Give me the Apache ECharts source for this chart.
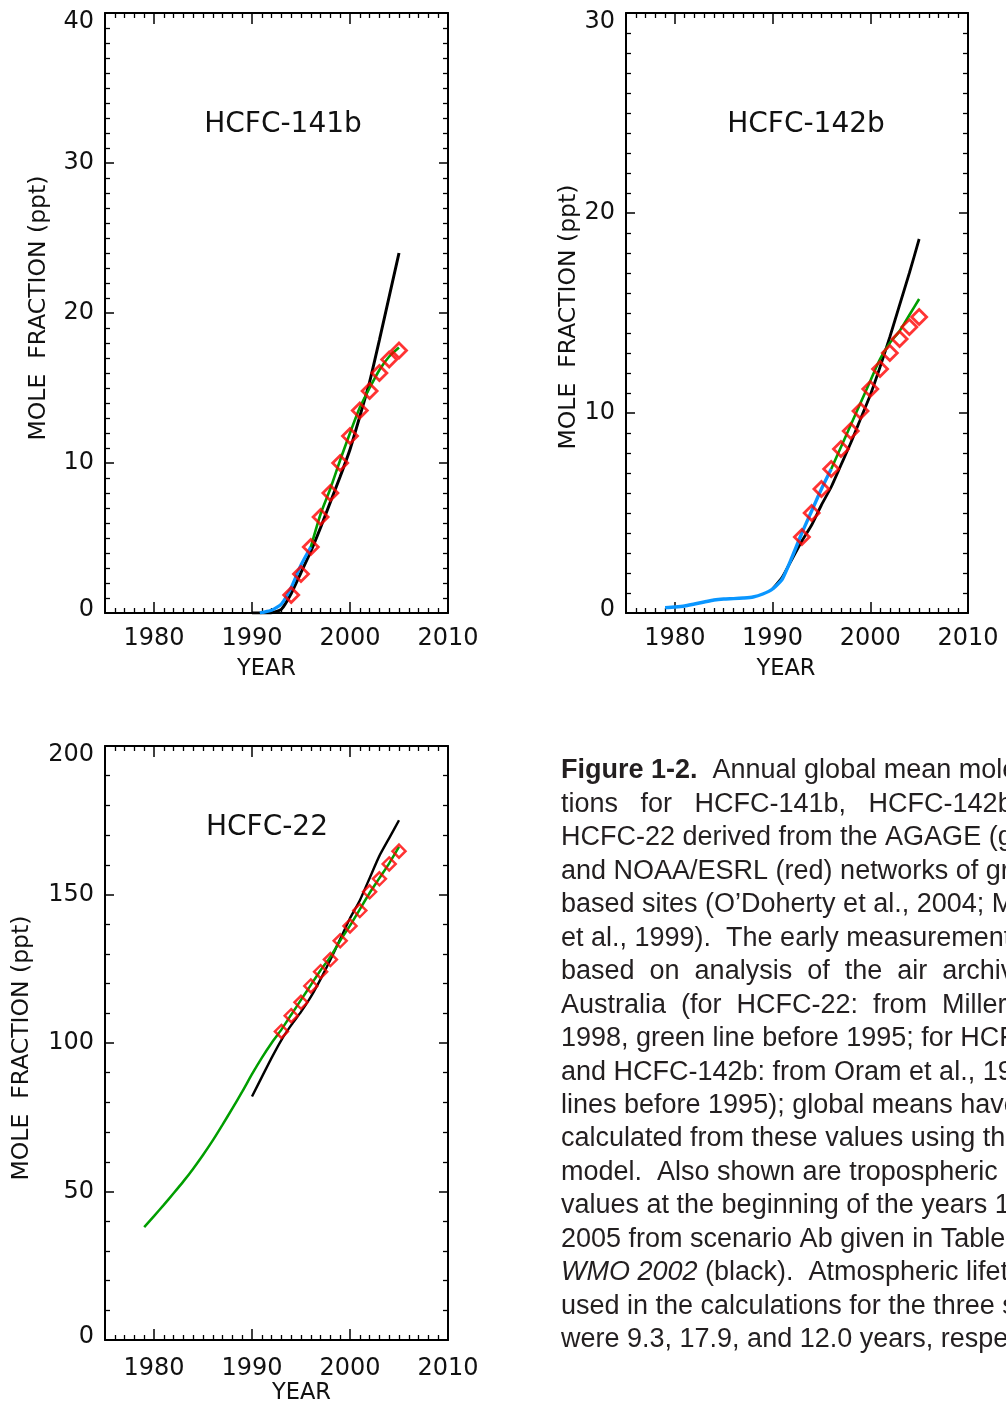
<!DOCTYPE html>
<html><head><meta charset="utf-8">
<script src="https://cdn.jsdelivr.net/npm/echarts@6/dist/echarts.min.js"></script>
<style>html,body{margin:0;padding:0;background:#fff}#c{width:1006px;height:1406px}</style>
</head><body><div id="c"></div>
<script>
// ---------- DATA ----------
const xMajorTicks = [1980, 1990, 2000, 2010];
const xMinorTicks = [1976,1977,1978,1979,1981,1982,1983,1984,1985,1986,1987,1988,1989,1991,1992,1993,1994,1995,1996,1997,1998,1999,2001,2002,2003,2004,2005,2006,2007,2008,2009];

// HCFC-141b
const b141_blackYears = [1990,1991,1992,1993,1994,1995,1996,1997,1998,1999,2000,2001,2002,2003,2004,2005];
const b141_blackVals  = [0,0,0.02,0.25,1.3,2.7,4.1,5.7,7.4,9.1,10.9,13.1,15.4,18.2,21.1,24.0];
const b141_blueYears  = [1990.8,1991,1992,1993,1994,1995,1996];
const b141_blueVals   = [0,0.03,0.18,0.6,1.7,3.2,4.4];
const b141_greenYears = [1996,1997,1998,1999,2000,2001,2002,2003,2004,2005];
const b141_greenVals  = [4.4,6.6,8.3,10.2,12.0,13.7,15.0,16.2,17.1,17.7];
const b141_redYears   = [1994,1995,1996,1997,1998,1999,2000,2001,2002,2003,2004,2005];
const b141_redVals    = [1.2,2.6,4.4,6.4,8.0,10.0,11.8,13.5,14.8,16.0,16.9,17.5];

// HCFC-142b
const b142_blackYears = [1990,1991,1992,1993,1994,1995,1996,1997,1998,1999,2000,2001,2002,2003,2004,2005];
const b142_blackVals  = [1.2,1.8,2.7,3.6,4.4,5.4,6.3,7.4,8.5,9.7,10.9,12.3,13.8,15.4,17.0,18.7];
const b142_blueYears  = [1979,1980,1981,1982,1983,1984,1985,1986,1987,1988,1989,1990,1991,1992,1993,1994,1995,1996];
const b142_blueVals   = [0.27,0.3,0.35,0.45,0.55,0.65,0.7,0.72,0.75,0.8,0.95,1.2,1.7,2.8,4.0,5.1,6.2,7.2];
const b142_greenYears = [1996,1997,1998,1999,2000,2001,2002,2003,2004,2005];
const b142_greenVals  = [7.2,8.3,9.4,10.5,11.6,12.7,13.5,14.1,14.9,15.7];
const b142_redYears   = [1993,1994,1995,1996,1997,1998,1999,2000,2001,2002,2003,2004,2005];
const b142_redVals    = [3.8,5.0,6.2,7.2,8.2,9.1,10.1,11.2,12.2,13.0,13.7,14.3,14.8];

// HCFC-22
const c22_blackYears = [1990,1991,1992,1993,1994,1995,1996,1997,1998,1999,2000,2001,2002,2003,2004,2005];
const c22_blackVals  = [82,88.5,95,101,106,110.5,115.5,121.5,128,135,142,148,155.5,163,169,175];
const c22_greenYears = [1979,1980,1981,1982,1983,1984,1985,1986,1987,1988,1989,1990,1991,1992,1993,1994,1995,1996,1997,1998,1999,2000,2001,2002,2003,2004,2005];
const c22_greenVals  = [38,41.7,45.5,49.4,53.4,57.7,62.3,67.2,72.5,78,83.6,89.5,95,100,104.5,109.5,114.5,119.5,124.5,129,134.5,139.5,145,150.5,155.5,160.5,166];
const c22_redYears   = [1993,1994,1995,1996,1997,1998,1999,2000,2001,2002,2003,2004,2005];
const c22_redVals    = [103.9,109.2,113.7,119.2,124,128.1,134.4,139.4,144.6,150.9,155.3,160.3,164.6];

const panelTitles = ['HCFC-141b', 'HCFC-142b', 'HCFC-22'];
const yMaxes = [40, 30, 200];
const yIntervals = [10, 10, 50];
const yMinorSplits = [10, 10, 5];
const yAxisName = 'MOLE  FRACTION (ppt)';
const xAxisName = 'YEAR';

const captionLines = [
  '{b|Figure 1-2.}  Annual global mean mole frac-',
  'tions   for   HCFC-141b,   HCFC-142b,   and',
  'HCFC-22 derived from the AGAGE (green)',
  'and NOAA/ESRL (red) networks of ground-',
  'based sites (O\u2019Doherty et al., 2004; Montzka',
  'et al., 1999).  The early measurements are',
  'based  on  analysis  of  the  air  archive  at',
  'Australia  (for  HCFC-22:  from  Miller  et al.,',
  '1998, green line before 1995; for HCFC-141b',
  'and HCFC-142b: from Oram et al., 1998, blue',
  'lines before 1995); global means have been',
  'calculated from these values using the AGAGE',
  'model.  Also shown are tropospheric mixing',
  'values at the beginning of the years 1990-',
  '2005 from scenario Ab given in Table 4B-2 of',
  '{i|WMO 2002} (black).  Atmospheric lifetimes',
  'used in the calculations for the three species',
  'were 9.3, 17.9, and 12.0 years, respectively.'
];

// ---------- BUILD ----------
const pairs = (xs, ys) => xs.map((x, i) => [x, ys[i]]);
const BLACK = '#000', BLUE = '#0a96ff', GREEN = '#009e00', RED = '#ff0000';
const TICKFONT = 'DejaVu Sans';

const grids = [
  {left: 105, top: 13, width: 343, height: 600},
  {left: 626, top: 13, width: 342, height: 600},
  {left: 105, top: 746, width: 343, height: 600}
];
const yNameGaps = [54, 45, 71];
const yNamePad = [[0,0,0,10],[0,8,0,0],[0,10,0,0]];
const xNameGaps = [45, 45, 42];
const xNamePad = [[0,20,0,0],[0,22,0,0],[0,0,0,50]];

const xAxes = [], yAxes = [];
const axLine = {onZero: false, lineStyle: {color: '#000', width: 2}};
grids.forEach((g, gi) => {
  xAxes.push({gridIndex: gi, type: 'value', position: 'bottom', min: 1975, max: 2010,
    axisLine: axLine,
    axisTick: {show: true, inside: true, length: 11, lineStyle: {color: '#000', width: 1.5}, customValues: xMajorTicks},
    axisLabel: {show: true, customValues: xMajorTicks, formatter: v => String(v), color: '#111', fontFamily: TICKFONT, fontSize: 24, margin: gi === 2 ? 17 : 14},
    splitLine: {show: false},
    name: xAxisName, nameLocation: 'middle', nameGap: xNameGaps[gi],
    nameTextStyle: {color: '#111', fontFamily: TICKFONT, fontSize: 22.5, verticalAlign: 'top', padding: xNamePad[gi]}
  });
  xAxes.push({gridIndex: gi, type: 'value', position: 'bottom', min: 1975, max: 2010,
    axisLine: {show: false, onZero: false},
    axisTick: {show: true, inside: true, length: 5, lineStyle: {color: '#000', width: 1.3}, customValues: xMinorTicks},
    axisLabel: {show: false}, splitLine: {show: false}});
  xAxes.push({gridIndex: gi, type: 'value', position: 'top', min: 1975, max: 2010,
    axisLine: axLine,
    axisTick: {show: true, inside: true, length: 11, lineStyle: {color: '#000', width: 1.5}, customValues: xMajorTicks},
    axisLabel: {show: false}, splitLine: {show: false}});
  xAxes.push({gridIndex: gi, type: 'value', position: 'top', min: 1975, max: 2010,
    axisLine: {show: false, onZero: false},
    axisTick: {show: true, inside: true, length: 5, lineStyle: {color: '#000', width: 1.3}, customValues: xMinorTicks},
    axisLabel: {show: false}, splitLine: {show: false}});

  const ymax = yMaxes[gi];
  const yLab = {
    show: true, color: '#111', fontFamily: TICKFONT, fontSize: 24, margin: 11, lineHeight: 24,
    formatter: v => v === ymax ? '{t|' + v + '}' : (v === 0 ? '{b|' + v + '}' : String(v)),
    rich: {
      t: {fontFamily: TICKFONT, fontSize: 24, color: '#111', padding: [18, 0, 0, 0]},
      b: {fontFamily: TICKFONT, fontSize: 24, color: '#111', padding: [0, 0, 7, 0]}
    }
  };
  yAxes.push({gridIndex: gi, type: 'value', position: 'left', min: 0, max: ymax, interval: yIntervals[gi],
    axisLine: axLine,
    axisTick: {show: true, inside: true, length: 9, lineStyle: {color: '#000', width: 1.5}},
    minorTick: {show: true, splitNumber: yMinorSplits[gi], length: 5, lineStyle: {color: '#000', width: 1.3}},
    axisLabel: yLab, splitLine: {show: false}, minorSplitLine: {show: false},
    name: yAxisName, nameLocation: 'middle', nameGap: yNameGaps[gi],
    nameTextStyle: {color: '#111', fontFamily: TICKFONT, fontSize: 23.5, padding: yNamePad[gi]}
  });
  yAxes.push({gridIndex: gi, type: 'value', position: 'right', min: 0, max: ymax, interval: yIntervals[gi],
    axisLine: axLine,
    axisTick: {show: true, inside: true, length: 9, lineStyle: {color: '#000', width: 1.5}},
    minorTick: {show: true, splitNumber: yMinorSplits[gi], length: 5, lineStyle: {color: '#000', width: 1.3}},
    axisLabel: {show: false}, splitLine: {show: false}, minorSplitLine: {show: false}
  });
});

function lineS(gi, data, color, width) {
  return {type: 'line', xAxisIndex: gi * 4, yAxisIndex: gi * 2, data: data, showSymbol: false, symbol: 'none',
    smooth: 0.2, lineStyle: {color: color, width: width}, z: 3, silent: true};
}
function redS(gi, data, size, bw) {
  return {type: 'scatter', xAxisIndex: gi * 4, yAxisIndex: gi * 2, data: data, symbol: 'diamond', symbolSize: size,
    itemStyle: {color: 'rgba(255,255,255,0)', borderColor: RED, borderWidth: bw}, z: 5, silent: true};
}

const series = [
  lineS(0, pairs(b141_blackYears, b141_blackVals), BLACK, 3),
  lineS(0, pairs(b141_blueYears, b141_blueVals), BLUE, 3.2),
  lineS(0, pairs(b141_greenYears, b141_greenVals), GREEN, 2.6),
  redS(0, pairs(b141_redYears, b141_redVals), 15, 2.8),
  lineS(1, pairs(b142_blackYears, b142_blackVals), BLACK, 2.8),
  lineS(1, pairs(b142_blueYears, b142_blueVals), BLUE, 3.4),
  lineS(1, pairs(b142_greenYears, b142_greenVals), GREEN, 2.6),
  redS(1, pairs(b142_redYears, b142_redVals), 15, 2.8),
  lineS(2, pairs(c22_blackYears, c22_blackVals), BLACK, 2.4),
  lineS(2, pairs(c22_greenYears, c22_greenVals), GREEN, 2.5),
  redS(2, pairs(c22_redYears, c22_redVals), 13, 2.5)
];

const titlePos = [[283, 125], [806, 125], [267, 828]];
const graphics = panelTitles.map((t, i) => ({
  type: 'text', x: titlePos[i][0], y: titlePos[i][1], silent: true,
  style: {text: t, fill: '#111', fontFamily: TICKFONT, fontSize: 28, align: 'center', verticalAlign: 'middle'}
}));
const CAPFONT = 'Liberation Sans';
captionLines.forEach((ln, i) => {
  graphics.push({type: 'text', x: 561, y: 771 + i * 33.45, silent: true,
    style: {text: ln, fill: '#231f20', fontFamily: CAPFONT, fontSize: 27, align: 'left', verticalAlign: 'middle',
      rich: {
        b: {fontFamily: CAPFONT, fontSize: 27, fontWeight: 'bold', fill: '#231f20'},
        i: {fontFamily: CAPFONT, fontSize: 27, fontStyle: 'italic', fill: '#231f20'}
      }}});
});

const chart = echarts.init(document.getElementById('c'), null, {renderer: 'canvas', width: 1006, height: 1406});
chart.setOption({
  animation: false,
  backgroundColor: '#fff',
  grid: grids,
  xAxis: xAxes,
  yAxis: yAxes,
  series: series,
  graphic: graphics
});
</script>
</body></html>
